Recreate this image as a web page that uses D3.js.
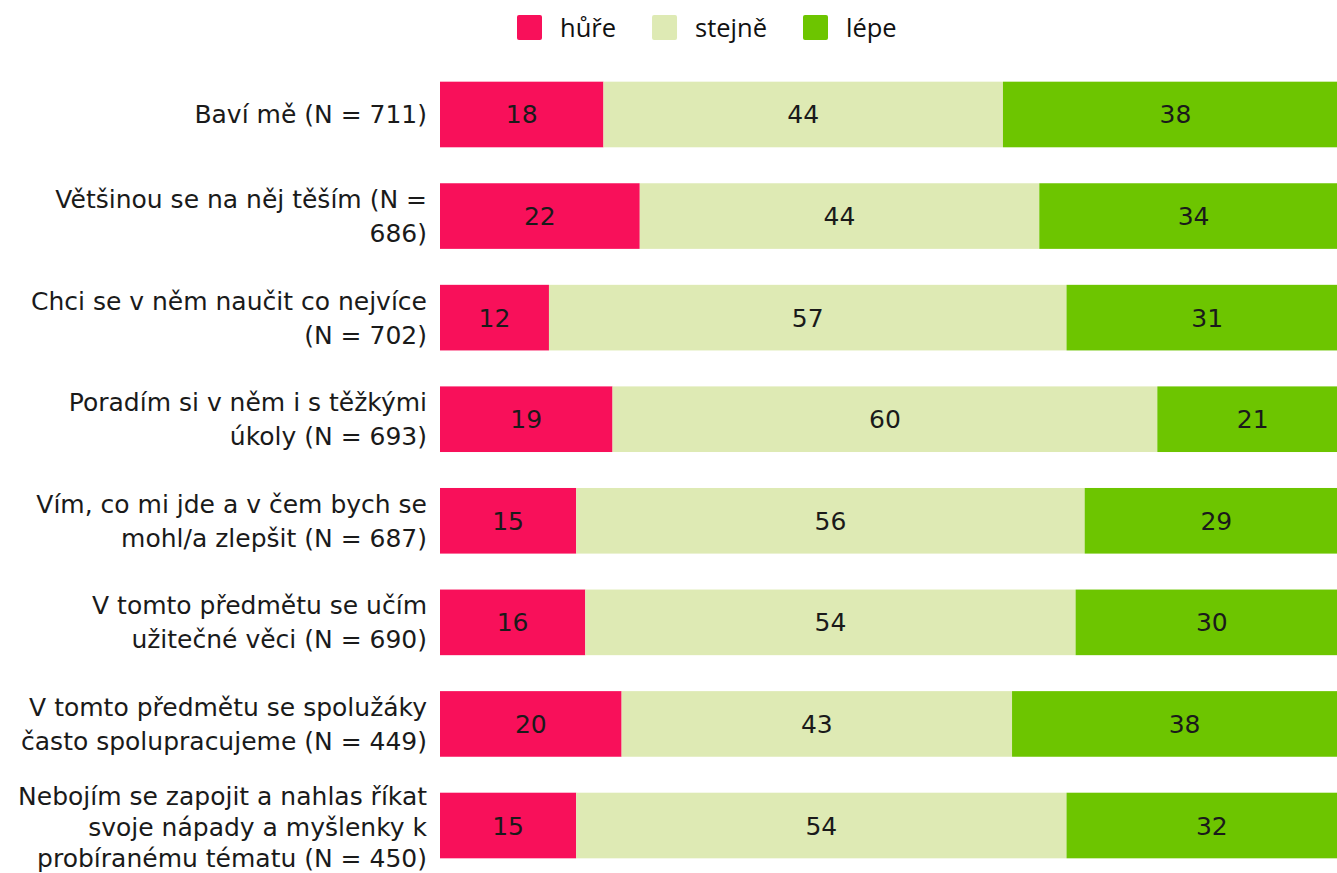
<!DOCTYPE html>
<html>
<head>
<meta charset="utf-8">
<script src="https://cdn.jsdelivr.net/npm/d3@7"></script>
<style>
  html, body { margin: 0; padding: 0; background: #fff; }
  svg { display: block; }
  .cat { font-family: "DejaVu Sans", Verdana, sans-serif; font-size: 25px; fill: #1a1a1a; }
  .val { font-family: "DejaVu Sans", Verdana, sans-serif; font-size: 25px; fill: #1a1a1a; }
  .legend text { font-family: "Open Sans", sans-serif; font-size: 25.5px; fill: #111; }
</style>
</head>
<body>
<div class="chart"></div>
<script>
const WIDTH = 1337
const HEIGHT = 873

const categories = [
  'Baví mě (N = 711)',
  'Většinou se na něj těším (N =\n686)',
  'Chci se v něm naučit co nejvíce\n(N = 702)',
  'Poradím si v něm i s těžkými\núkoly (N = 693)',
  'Vím, co mi jde a v čem bych se\nmohl/a zlepšit (N = 687)',
  'V tomto předmětu se učím\nužitečné věci (N = 690)',
  'V tomto předmětu se spolužáky\nčasto spolupracujeme (N = 449)',
  'Nebojím se zapojit a nahlas říkat\nsvoje nápady a myšlenky k\nprobíranému tématu (N = 450)',
]
const seriesNames = ['hůře', 'stejně', 'lépe']
const hure = [18, 22, 12, 19, 15, 16, 20, 15]
const stejne = [44, 44, 57, 60, 56, 54, 43, 54]
const lepe = [38, 34, 31, 21, 29, 30, 38, 32]

const COLORS = ['#f8105a', '#deeab4', '#6dc500']

const rows = categories.map((c, i) => ({ cat: c, 'hůře': hure[i], 'stejně': stejne[i], 'lépe': lepe[i] }))
const stacked = d3.stack().keys(seriesNames)(rows)

const svg = d3.select('.chart').append('svg')
  .attr('width', WIDTH)
  .attr('height', HEIGHT)

const x = d3.scaleLinear().domain([0, 100]).range([440, 1348])
const y = d3.scaleBand().domain(categories).range([63.7, 876.3])
  .paddingInner(0.354)
  .paddingOuter(0.177)
const color = d3.scaleOrdinal().domain(seriesNames).range(COLORS)

const layer = svg.append('g').selectAll('g')
  .data(stacked)
  .join('g')
  .attr('fill', d => color(d.key))

layer.selectAll('rect')
  .data(d => d)
  .join('rect')
  .attr('x', d => x(d[0]))
  .attr('y', d => y(d.data.cat))
  .attr('width', d => x(d[1]) - x(d[0]))
  .attr('height', y.bandwidth())

const labels = svg.append('g')
stacked.forEach(s => {
  labels.selectAll(null)
    .data(s)
    .join('text')
    .attr('class', 'val')
    .attr('text-anchor', 'middle')
    .attr('x', d => (x(d[0]) + x(d[1])) / 2)
    .attr('y', d => y(d.data.cat) + y.bandwidth() / 2)
    .attr('dy', '0.36em')
    .text(d => d[1] - d[0])
})

// category labels, multi-line, centred on the bar
// (three-line labels are squeezed a bit to fit the band)
const cat = svg.append('g')
categories.forEach(c => {
  const lines = c.split('\n')
  const line = lines.length > 2 ? 31 : 34
  const cy = y(c) + y.bandwidth() / 2 + (lines.length > 2 ? 1 : 0)
  const t = cat.append('text')
    .attr('class', 'cat')
    .attr('text-anchor', 'end')
  lines.forEach((l, j) => {
    t.append('tspan')
      .attr('x', 427)
      .attr('y', cy + (j - (lines.length - 1) / 2) * line)
      .attr('dy', '0.36em')
      .text(l)
  })
})

// legend
const legend = svg.append('g').attr('class', 'legend')
let lx = 517
seriesNames.forEach(name => {
  const g = legend.append('g').attr('transform', `translate(${lx}, 0)`)
  g.append('rect')
    .attr('x', 0).attr('y', 15)
    .attr('width', 25).attr('height', 25)
    .attr('rx', 2)
    .attr('fill', color(name))
  const t = g.append('text')
    .attr('x', 43).attr('y', 28)
    .attr('dy', '0.36em')
    .text(name)
  lx += 43 + t.node().getComputedTextLength() + 36
})
</script>
</body>
</html>
